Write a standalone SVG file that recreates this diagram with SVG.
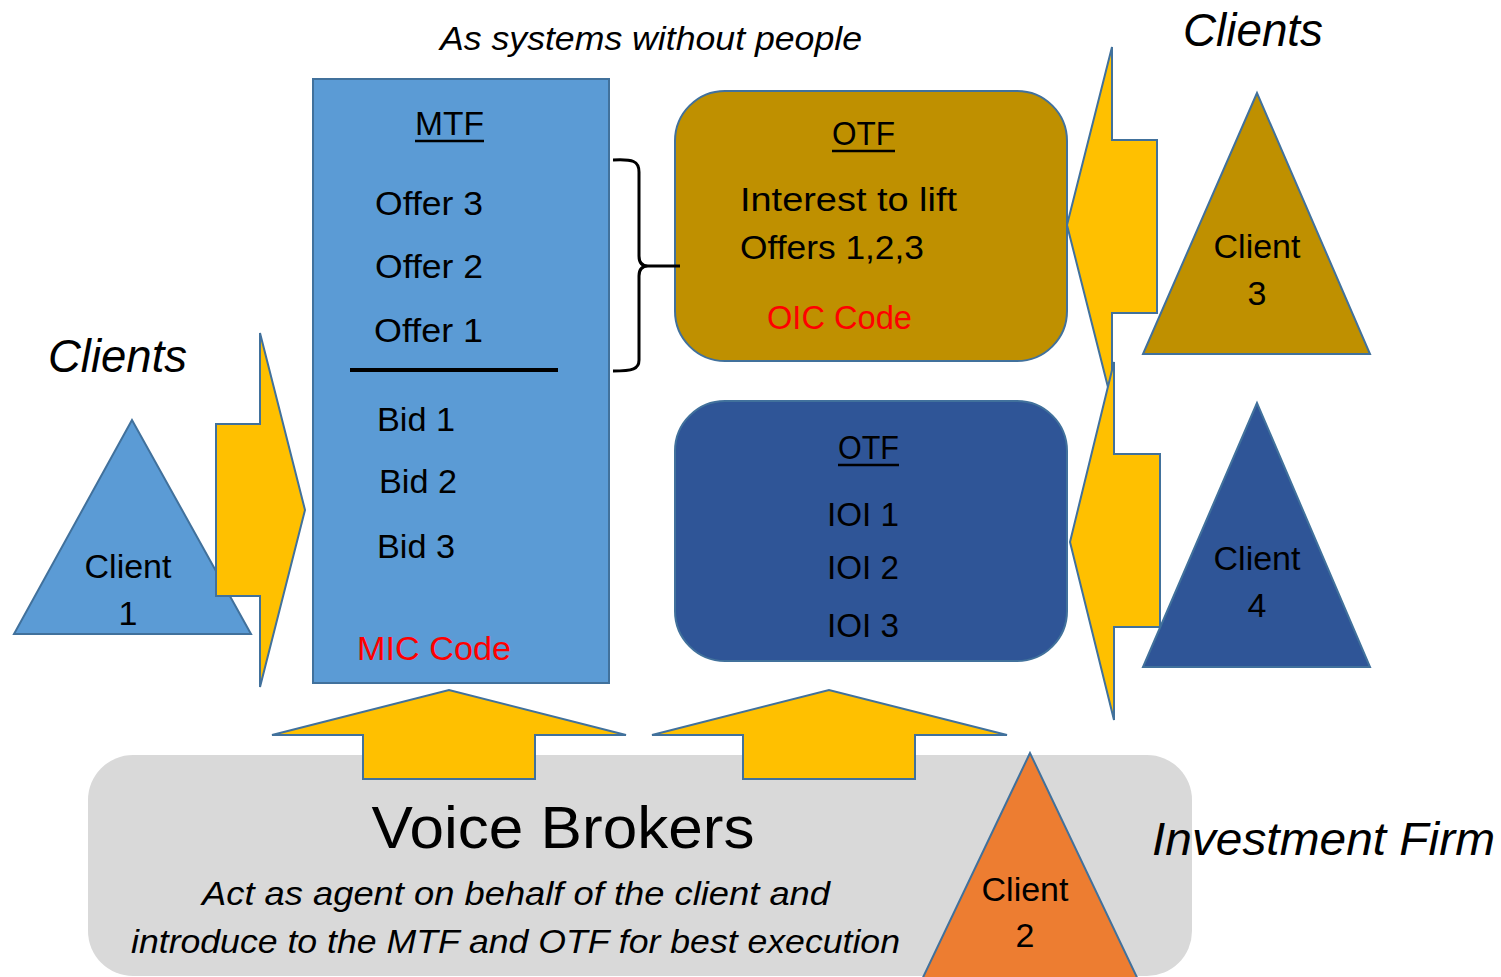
<svg xmlns="http://www.w3.org/2000/svg" width="1501" height="977" viewBox="0 0 1501 977">
  <style>
    text { font-family: "Liberation Sans", Arial, sans-serif; fill: #000; }
    .body { font-size: 34px; }
    .mid { text-anchor: middle; }
    .it { font-style: italic; }
    .big { font-size: 46px; }
    .red { fill: #ff0000; }
    .edge { stroke: #41719c; stroke-width: 2; stroke-linejoin: miter; }
    .flow { fill: #ffc000; stroke: #41719c; stroke-width: 2; }
    .ul { stroke: #000; stroke-width: 2.5; }
  </style>

  <rect width="1501" height="977" fill="#ffffff"/>

  <!-- voice brokers panel -->
  <g id="voice-brokers">
    <rect x="88" y="755" width="1104" height="221" rx="45" fill="#d9d9d9"/>
    <text class="mid" x="563" y="848" font-size="60" textLength="383" lengthAdjust="spacingAndGlyphs">Voice Brokers</text>
    <text class="body it" x="202" y="905" textLength="628" lengthAdjust="spacingAndGlyphs">Act as agent on behalf of the client and</text>
    <text class="body it" x="131" y="953" textLength="769" lengthAdjust="spacingAndGlyphs">introduce to the MTF and OTF for best execution</text>
  </g>

  <!-- captions -->
  <text class="body it mid" x="651" y="50" textLength="422" lengthAdjust="spacingAndGlyphs">As systems without people</text>
  <text class="big it" x="1183" y="46" textLength="140" lengthAdjust="spacingAndGlyphs">Clients</text>
  <text class="big it" x="48" y="372" textLength="139" lengthAdjust="spacingAndGlyphs">Clients</text>
  <text class="big it" x="1152" y="855" textLength="343" lengthAdjust="spacingAndGlyphs">Investment Firm</text>

  <!-- MTF order book -->
  <g id="mtf">
    <rect x="313" y="79" width="296" height="604" fill="#5b9bd5" class="edge"/>
    <text class="body" x="415" y="135" textLength="69" lengthAdjust="spacingAndGlyphs">MTF</text>
    <line class="ul" x1="415" y1="141" x2="484" y2="141"/>
    <text class="body" x="375" y="215" textLength="108" lengthAdjust="spacingAndGlyphs">Offer 3</text>
    <text class="body" x="375" y="278" textLength="108" lengthAdjust="spacingAndGlyphs">Offer 2</text>
    <text class="body" x="374" y="342" textLength="109" lengthAdjust="spacingAndGlyphs">Offer 1</text>
    <line x1="350" y1="370" x2="558" y2="370" stroke="#000" stroke-width="4"/>
    <text class="body" x="377" y="431" textLength="78" lengthAdjust="spacingAndGlyphs">Bid 1</text>
    <text class="body" x="379" y="493" textLength="78" lengthAdjust="spacingAndGlyphs">Bid 2</text>
    <text class="body" x="377" y="558" textLength="78" lengthAdjust="spacingAndGlyphs">Bid 3</text>
    <text class="body red" x="357" y="660" textLength="154" lengthAdjust="spacingAndGlyphs">MIC Code</text>
  </g>

  <!-- OTF with interest in the offers -->
  <g id="otf-offers">
    <rect x="675" y="91" width="392" height="270" rx="50" fill="#bf9000" class="edge"/>
    <text class="body" x="832" y="145" textLength="63" lengthAdjust="spacingAndGlyphs">OTF</text>
    <line class="ul" x1="832" y1="151" x2="895" y2="151"/>
    <text class="body" x="740" y="211" textLength="217" lengthAdjust="spacingAndGlyphs">Interest to lift</text>
    <text class="body" x="740" y="259" textLength="184" lengthAdjust="spacingAndGlyphs">Offers 1,2,3</text>
    <text class="body red" x="767" y="329" textLength="145" lengthAdjust="spacingAndGlyphs">OIC Code</text>
  </g>

  <!-- OTF with indications of interest -->
  <g id="otf-ioi">
    <rect x="675" y="401" width="392" height="260" rx="50" fill="#2f5597" class="edge"/>
    <text class="body" x="838" y="459" textLength="61" lengthAdjust="spacingAndGlyphs">OTF</text>
    <line class="ul" x1="838" y1="465" x2="899" y2="465"/>
    <text class="body" x="827" y="526" textLength="72" lengthAdjust="spacingAndGlyphs">IOI 1</text>
    <text class="body" x="827" y="579" textLength="72" lengthAdjust="spacingAndGlyphs">IOI 2</text>
    <text class="body" x="827" y="637" textLength="72" lengthAdjust="spacingAndGlyphs">IOI 3</text>
  </g>

  <g id="client-1">
    <polygon points="132,420 14,634 251,634" fill="#5b9bd5" class="edge"/>
  </g>

  <!-- connectors: block arrows and the brace -->
  <g id="connectors">
    <polygon class="flow" points="216,424 260,424 260,333 305,510 260,687 260,596 216,596"/>
    <polygon class="flow" points="1157,140 1112,140 1112,47 1067,225 1112,403 1112,313 1157,313"/>
    <polygon class="flow" points="1160,454 1114,454 1114,362 1070,542 1114,720 1114,627 1160,627"/>
    <polygon class="flow" points="363,779 363,735 272,735 449,690 626,735 535,735 535,779"/>
    <polygon class="flow" points="743,779 743,735 652,735 829,690 1007,735 915,735 915,779"/>
    <path d="M613,160 C633,159 639,161 639,172 L639,256 C639,263 642,266 648,266 C642,266 639,269 639,276 L639,360 C639,369 633,371 613,371 M646,266 L680,266" fill="none" stroke="#000" stroke-width="3"/>
  </g>

  <g id="client-1-label">
    <text class="body mid" x="128" y="578">Client</text>
    <text class="body mid" x="128" y="625">1</text>
  </g>

  <g id="client-3">
    <polygon points="1257,93 1143,354 1370,354" fill="#bf9000" class="edge"/>
    <text class="body mid" x="1257" y="258">Client</text>
    <text class="body mid" x="1257" y="305">3</text>
  </g>

  <g id="client-4">
    <polygon points="1257,403 1143,667 1370,667" fill="#2f5597" class="edge"/>
    <text class="body mid" x="1257" y="570">Client</text>
    <text class="body mid" x="1257" y="617">4</text>
  </g>

  <g id="client-2">
    <polygon points="1030,753 917,990 1143,990" fill="#ed7d31" class="edge"/>
    <text class="body mid" x="1025" y="901">Client</text>
    <text class="body mid" x="1025" y="947">2</text>
  </g>
</svg>
